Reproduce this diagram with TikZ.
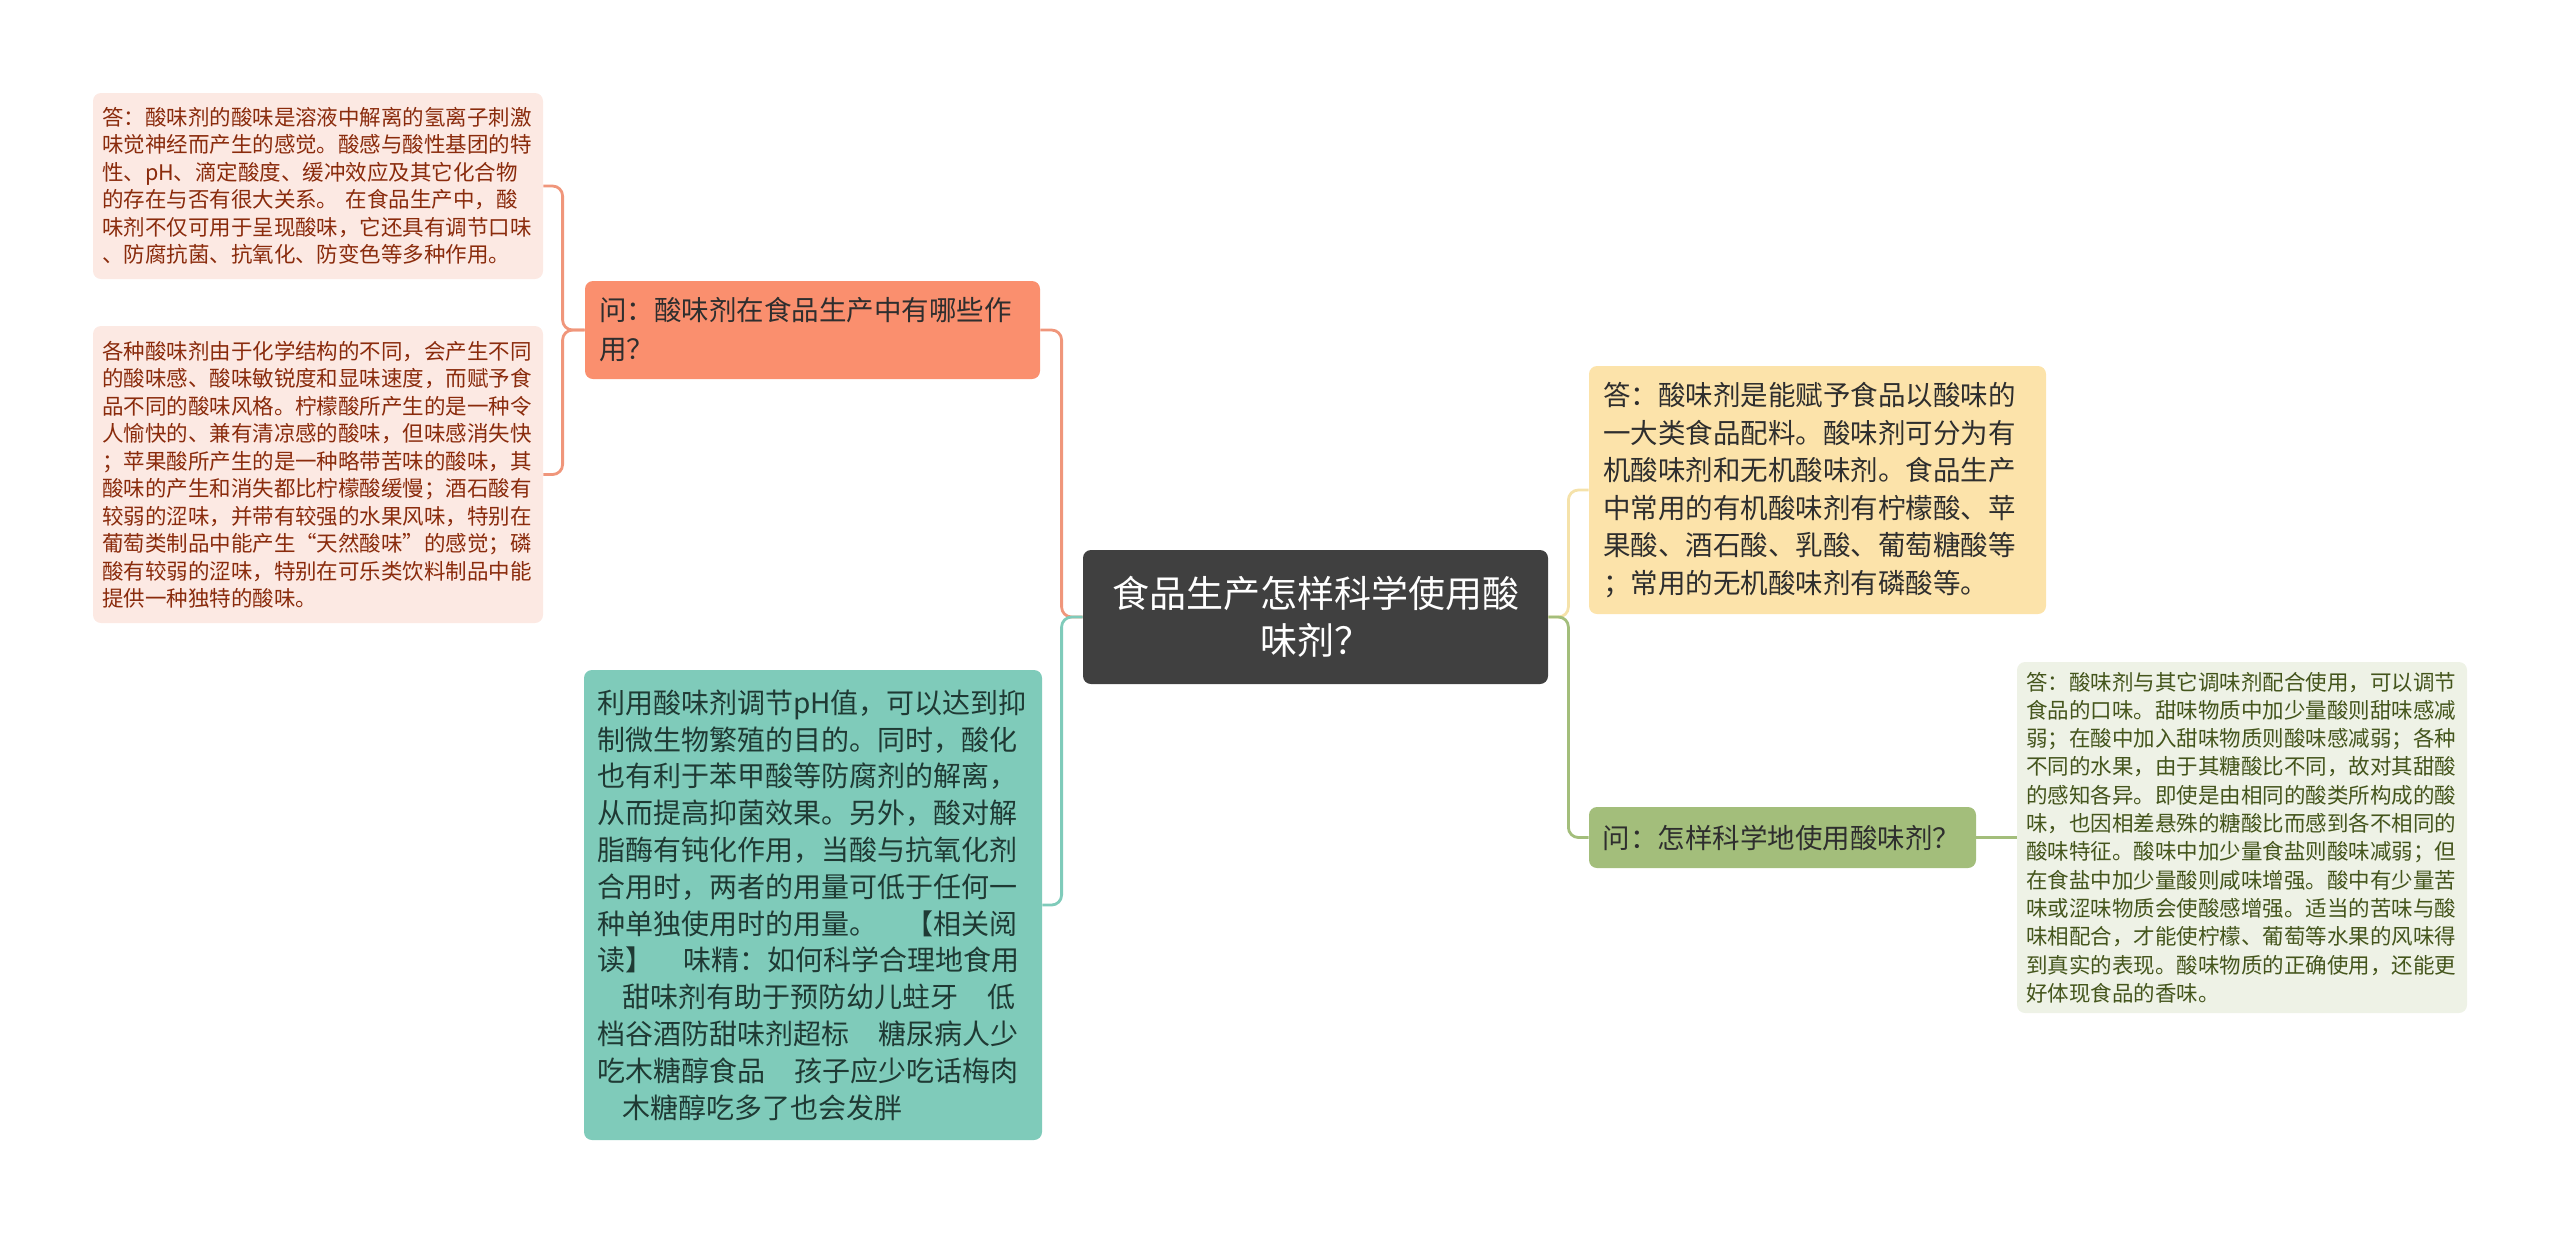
\documentclass[tikz,border=0pt]{standalone}
\usepackage{fontspec}
\setmainfont{Noto Sans CJK SC}
\usepackage{tikz}

\definecolor{rootfill}{HTML}{404040}
\definecolor{orangefill}{HTML}{FA8F6E}
\definecolor{orangeline}{HTML}{F0967B}
\definecolor{pinkfill}{HTML}{FCE9E3}
\definecolor{pinktext}{HTML}{8A2B0C}
\definecolor{tealfill}{HTML}{7FCBBA}
\definecolor{tealtext}{HTML}{1F3A34}
\definecolor{yellowfill}{HTML}{FCE3AA}
\definecolor{yellowline}{HTML}{F5E2AA}
\definecolor{greenfill}{HTML}{A3BE7B}
\definecolor{lightgreenfill}{HTML}{EEF2E6}
\definecolor{olivetext}{HTML}{44551C}
\definecolor{darktext}{HTML}{2E2E2E}

\tikzset{
	box/.style={rounded corners=4pt, inner ysep=3pt, align=left},
	rootbox/.style={box, align=center, fill=rootfill, text=white, text width=216.5pt, inner xsep=8pt, minimum height=67pt, font=\fontsize{18.5}{23.5}\selectfont},
	questionbox/.style={box, text=darktext, font=\fontsize{13.75}{19.5}\selectfont},
	pinkbox/.style={box, fill=pinkfill, text=pinktext, text width=216pt, inner xsep=4.5pt, font=\fontsize{10.75}{13.75}\selectfont},
	tealbox/.style={box, fill=tealfill, text=tealtext, text width=216pt, inner xsep=6.5pt, minimum height=235pt, font=\fontsize{14}{18.4}\selectfont},
	yellowbox/.style={box, fill=yellowfill, text=darktext, text width=214.5pt, inner xsep=7pt, minimum height=124pt, font=\fontsize{13.75}{18.75}\selectfont},
	lightgreenbox/.style={box, fill=lightgreenfill, text=olivetext, text width=216pt, inner xsep=4.5pt, minimum height=175.5pt, font=\fontsize{10.75}{14.15}\selectfont},
	branch/.style={line width=1.4pt, rounded corners=5pt}
}

\begin{document}
\begin{tikzpicture}[x=0.5pt, y=-0.5pt]
	% Canvas, in pixels of the original
	\useasboundingbox (0,0) rectangle (2560,1233);

	% Central topic
	\node[rootbox] (root) at (1315.5,617) {食品生产怎样科学使用酸\\味剂？};

	% Left side: first question and its answers
	\node[questionbox, fill=orangefill, text width=213.5pt, inner xsep=7pt, minimum height=49pt] (qRole) at (812.5,330) {问：酸味剂在食品生产中有哪些作\\用？};
	\node[pinkbox, minimum height=93pt] (ansTaste) at (318,186) {答：酸味剂的酸味是溶液中解离的氢离子刺激\\
味觉神经而产生的感觉。酸感与酸性基团的特\\
性、pH、滴定酸度、缓冲效应及其它化合物\\
的存在与否有很大关系。 在食品生产中，酸\\
味剂不仅可用于呈现酸味，它还具有调节口味\\
、防腐抗菌、抗氧化、防变色等多种作用。};
	\node[pinkbox, minimum height=148.5pt] (ansStyle) at (318,474.5) {各种酸味剂由于化学结构的不同，会产生不同\\
的酸味感、酸味敏锐度和显味速度，而赋予食\\
品不同的酸味风格。柠檬酸所产生的是一种令\\
人愉快的、兼有清凉感的酸味，但味感消失快\\
；苹果酸所产生的是一种略带苦味的酸味，其\\
酸味的产生和消失都比柠檬酸缓慢；酒石酸有\\
较弱的涩味，并带有较强的水果风味，特别在\\
葡萄类制品中能产生“天然酸味”的感觉；磷\\
酸有较弱的涩味，特别在可乐类饮料制品中能\\
提供一种独特的酸味。};

	% Left side: pH text
	\node[tealbox] (ansPH) at (813,905) {利用酸味剂调节pH值，可以达到抑\\
制微生物繁殖的目的。同时，酸化\\
也有利于苯甲酸等防腐剂的解离，\\
从而提高抑菌效果。另外，酸对解\\
脂酶有钝化作用，当酸与抗氧化剂\\
合用时，两者的用量可低于任何一\\
种单独使用时的用量。\hspace*{1em}【相关阅\\
读】\hspace*{1.1em}味精：如何科学合理地食用\\
\hspace*{0.9em}甜味剂有助于预防幼儿蛀牙\hspace*{1.05em}低\\
档谷酒防甜味剂超标\hspace*{1.05em}糖尿病人少\\
吃木糖醇食品\hspace*{1.05em}孩子应少吃话梅肉\\
\hspace*{0.9em}木糖醇吃多了也会发胖};

	% Right side
	\node[yellowbox] (ansDef) at (1817.5,490) {答：酸味剂是能赋予食品以酸味的\\
一大类食品配料。酸味剂可分为有\\
机酸味剂和无机酸味剂。食品生产\\
中常用的有机酸味剂有柠檬酸、苹\\
果酸、酒石酸、乳酸、葡萄糖酸等\\
；常用的无机酸味剂有磷酸等。};
	\node[questionbox, fill=greenfill, text width=180pt, inner xsep=6.75pt, minimum height=30.5pt] (qHow) at (1782.5,837.5) {问：怎样科学地使用酸味剂？};
	\node[lightgreenbox] (ansHow) at (2242,837.5) {答：酸味剂与其它调味剂配合使用，可以调节\\
食品的口味。甜味物质中加少量酸则甜味感减\\
弱；在酸中加入甜味物质则酸味感减弱；各种\\
不同的水果，由于其糖酸比不同，故对其甜酸\\
的感知各异。即使是由相同的酸类所构成的酸\\
味，也因相差悬殊的糖酸比而感到各不相同的\\
酸味特征。酸味中加少量食盐则酸味减弱；但\\
在食盐中加少量酸则咸味增强。酸中有少量苦\\
味或涩味物质会使酸感增强。适当的苦味与酸\\
味相配合，才能使柠檬、葡萄等水果的风味得\\
到真实的表现。酸味物质的正确使用，还能更\\
好体现食品的香味。};

	% Connectors
	\draw[branch, orangeline] (root.west) -- ++(-21,0) |- (qRole.east);
	\draw[branch, orangeline] (qRole.west) -- ++(-22,0) |- (ansTaste.east);
	\draw[branch, orangeline] (qRole.west) -- ++(-22,0) |- (ansStyle.east);
	\draw[branch, tealfill] (root.west) -- ++(-21,0) |- (ansPH.east);
	\draw[branch, yellowline] (root.east) -- ++(20,0) |- (ansDef.west);
	\draw[branch, greenfill] (root.east) -- ++(20,0) |- (qHow.west);
	\draw[branch, greenfill] (qHow.east) -- (ansHow.west);

\end{tikzpicture}
\end{document}
